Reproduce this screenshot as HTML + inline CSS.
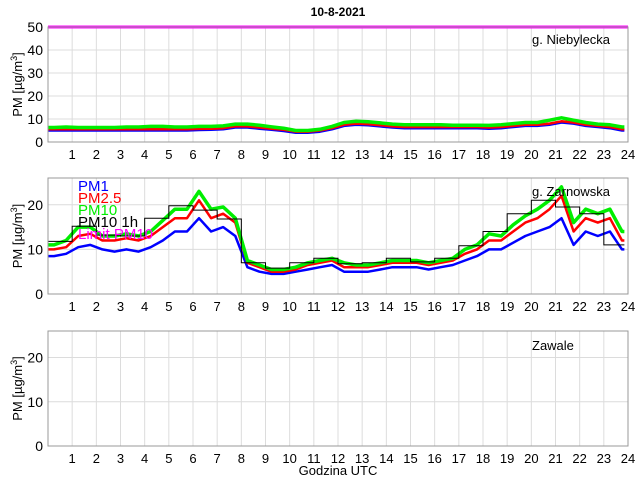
<!DOCTYPE html>
<html><head><meta charset="utf-8"><style>
body{margin:0;background:#fff}
svg{font-family:"Liberation Sans",sans-serif;display:block}
</style></head><body>
<svg id="c" width="640" height="480" xmlns="http://www.w3.org/2000/svg">
<rect width="640" height="480" fill="#fff"/>
<text x="338" y="16" font-size="12" font-weight="bold" text-anchor="middle">10-8-2021</text>
<text x="338" y="475" font-size="13" text-anchor="middle">Godzina UTC</text>
</svg>
<script>
// Panel 1: g. Niebylecka (half-hour estimates)
const p1PM1=[5,5,5,5,5,5,5,5,5,5,5,5,5.2,5.3,5.5,5.5,6.5,6,5.5,5,4,4,4.5,5,6.5,7.5,7.5,7,6.5,6.5,6,6,6,6,6,6,5.8,6,6.5,7,7,7.5,8.5,8,7,6.5,6,5].map((v,i,a)=>v);
const p1PM1b=[5,5,5,5,5,5,5,5,5,5,5,5,5.2,5.3,5.5,6.3,6.3,5.8,5.3,4.8,4,4,4.5,5.5,7,7.5,7.3,6.8,6.3,6,6,6,6,6,6,6,5.8,6,6.5,7,7,7.5,8.5,8,7,6.5,6,5];
const p1PM25=[5.5,5.5,5.5,5.5,5.5,5.5,5.5,5.5,5.5,5.5,5.5,5.5,5.7,5.8,6,6.8,6.8,6.3,5.8,5.3,4.5,4.5,5,6,7.5,8,7.8,7.3,6.8,6.5,6.5,6.5,6.5,6.5,6.5,6.5,6.3,6.5,7,7.5,7.5,8,9,8.5,7.5,7,6.5,5.5];
const p1PM10=[6.3,6.5,6.3,6.3,6.3,6.3,6.5,6.5,6.8,6.8,6.5,6.5,6.8,6.8,7,7.8,7.8,7.3,6.6,6,5,5,5.5,6.8,8.5,9,8.8,8.3,7.8,7.5,7.5,7.5,7.5,7.3,7.3,7.3,7.2,7.5,8,8.5,8.5,9.5,10.5,9.5,8.5,7.8,7.5,6.5];
const p1Limit=50;
// Panel 2: g. Zarnowska
const p2PM1=[8.5,9,10.5,11,10,9.5,10,9.5,10.5,12,14,14,17,14,15,13,6,5,4.5,4.5,5,5.5,6,6.5,5,5,5,5.5,6,6,6,5.5,6,6.5,7.5,8.5,10,10,11.5,13,14,15,17,11,14,13,14,10];
const p2PM25=[10,10.5,13,13.5,12,12,12.5,12,13,15,17,17,21,17,18,16,7,6,5,5,5.5,6.5,7,7.5,6,6,6,6.5,7,7,7,6.5,7,7.5,9,10,12,12,14,16,17,19,22,14,17,16,17,12];
const p2PM10=[11,12,15,15,13,13,13.5,13,14,16.5,19,19,23,19,19.5,17,7.5,6.5,5.5,5.5,6,7,7.5,8,7,6.5,6.5,7,7.5,7.5,7.5,7,7.5,8,10,11,13.5,13,15.5,17.5,19,21,24,16,19,18,19,14];
const p2Hourly=[11.8,15.2,13.2,13,17,19.8,18.8,16.8,7,5.8,7,8,6.8,7,8,7.2,8,10.8,14,18,21,19.5,18,11];
const hourTicks=[1,2,3,4,5,6,7,8,9,10,11,12,13,14,15,16,17,18,19,20,21,22,23,24];
const NS='http://www.w3.org/2000/svg';
const svg=document.getElementById('c');
function mk(t,a,p){const e=document.createElementNS(NS,t);for(const k in a)e.setAttribute(k,a[k]);(p||svg).appendChild(e);return e;}
const X0=48,X1=628;
function xs(h){return X0+(X1-X0)*h/24;}
const panels=[
 {top:27,bot:142,ymax:50,ticks:[0,10,20,30,40,50],label:'g. Niebylecka',ly:44,name:'niebylecka',s:[p1PM1b,p1PM25,p1PM10]},
 {top:178,bot:294,ymax:26,ticks:[0,10,20],label:'g. Zarnowska',ly:196,name:'zarnowska',s:[p2PM1,p2PM25,p2PM10]},
 {top:331,bot:446,ymax:26,ticks:[0,10,20],label:'Zawale',ly:350,name:'zawale',s:null}
];
const cols=['#0000ff','#ff0000','#00ee00'];
panels.forEach((p,pi)=>{
 const g=mk('g',{});
 
 
 const ys=v=>p.bot-(p.bot-p.top)*v/p.ymax;
 hourTicks.forEach(h=>{
  if(h<24){const l=mk('line',{x1:xs(h),x2:xs(h),y1:p.top,y2:p.bot,stroke:'#dcdcdc','stroke-width':1},g);
  
  }
  const t=mk('text',{x:xs(h),y:p.bot+17,'font-size':13,'text-anchor':'middle'},g);t.textContent=h;
  
  
 });
 p.ticks.forEach(v=>{
  if(v>0&&v<p.ymax){const l=mk('line',{x1:X0,x2:X1,y1:ys(v),y2:ys(v),stroke:'#dcdcdc','stroke-width':1},g);
  
  }
  const t=mk('text',{x:43,y:ys(v)+5,'font-size':14,'text-anchor':'end'},g);t.textContent=v;
  
  
 });
 if(p.s){
  p.s.forEach((arr,si)=>{
   const pts=arr.map((v,i)=>xs(i*0.5+0.25).toFixed(1)+','+ys(v).toFixed(1));
   pts.unshift(xs(0)+','+ys(arr[0]).toFixed(1));
   pts.push(xs(23.85)+','+ys(arr[arr.length-1]).toFixed(1));
   const pl=mk('polyline',{points:pts.join(' '),fill:'none',stroke:cols[si],'stroke-width':si==2?3.5:2.5,'stroke-linejoin':'round'},g);
   
   
  });
 }
 if(pi==0){
  const l=mk('line',{x1:X0,x2:X1,y1:ys(p1Limit),y2:ys(p1Limit),stroke:'#ff00ff','stroke-width':3},g);
  
  
 }
 if(pi==1){
  let d='';
  p2Hourly.forEach((v,i)=>{d+=(i==0?'M':'L')+xs(i)+','+ys(v).toFixed(1)+' L'+xs(Math.min(i+1,23.85))+','+ys(v).toFixed(1)+' ';});
  const pa=mk('path',{d:d,fill:'none',stroke:'#000','stroke-width':1},g);
  
  
  const leg=[['PM1','#0000ff'],['PM2.5','#ff0000'],['PM10','#00ee00'],['PM10 1h','#000'],['Limit PM10','#ff00ff']];
  leg.forEach((e,i)=>{const t=mk('text',{x:78,y:191+i*12,'font-size':15,fill:e[1]},g);t.textContent=e[0];
   
   });
 }
 const fr=mk('rect',{x:X0,y:p.top,width:X1-X0,height:p.bot-p.top,fill:'none',stroke:'#999','stroke-width':1},g);
 
 
 const st=mk('text',{x:532,y:p.ly,'font-size':13},g);st.textContent=p.label;
 
 
 const cy=(p.top+p.bot)/2;
 const yl=mk('text',{x:22,y:cy,'font-size':13,'text-anchor':'middle',transform:'rotate(-90 22 '+cy+')'},g);
 yl.innerHTML='PM [µg/m<tspan dy="-5" font-size="9">3</tspan><tspan dy="5">]</tspan>';
 
 
});
</script>
</body></html>
